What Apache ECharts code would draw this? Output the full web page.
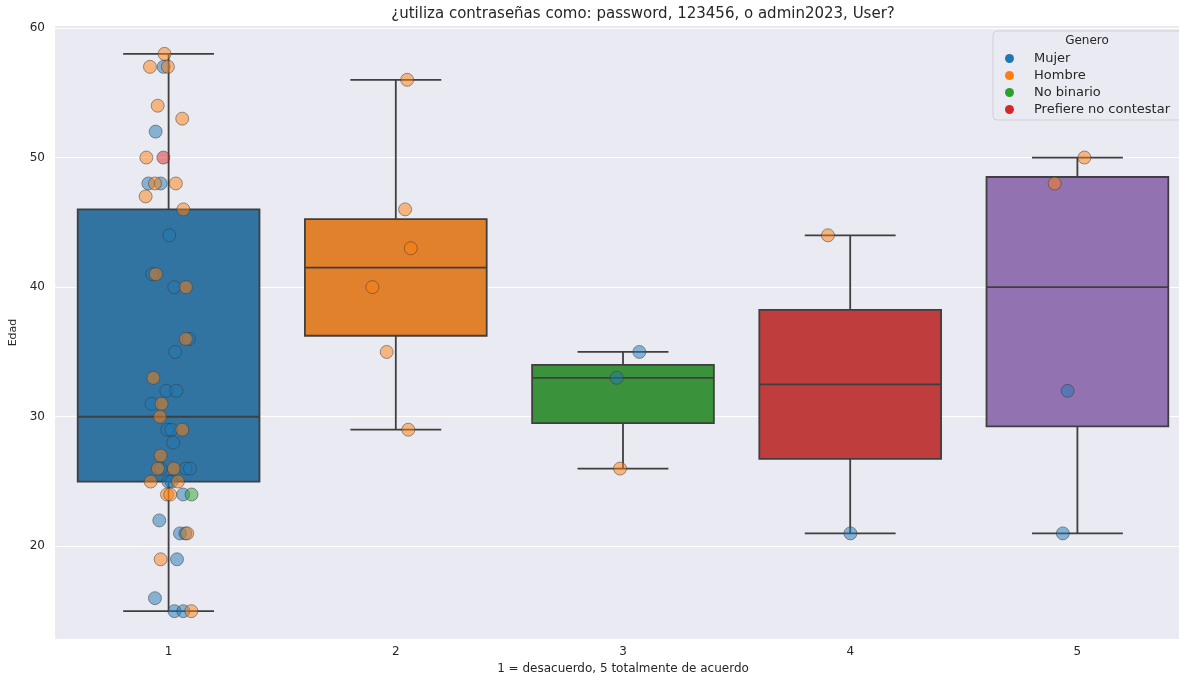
<!DOCTYPE html>
<html>
<head>
<meta charset="utf-8">
<script src="https://cdn.jsdelivr.net/npm/echarts@6/dist/echarts.min.js"></script>
<style>
  html, body { margin: 0; padding: 0; background: #ffffff; overflow: hidden; }
  #chart { width: 1191px; height: 677px; }
</style>
</head>
<body>
<div id="chart"></div>
<script>
// Answer scale (1 = desacuerdo, 5 = totalmente de acuerdo)
const categories = ['1', '2', '3', '4', '5'];
const genders = ['Mujer', 'Hombre', 'No binario', 'Prefiere no contestar'];

// Each respondent: [answer, age, strip jitter in category units]
const mujer = [
  [1, 57, -0.022], [1, 52, -0.057], [1, 48, -0.089], [1, 48, -0.035], [1, 44, 0.003],
  [1, 41, -0.072], [1, 40, 0.025], [1, 36, 0.089], [1, 35, 0.029], [1, 32, -0.010],
  [1, 32, 0.034], [1, 31, -0.075], [1, 29, -0.006], [1, 29, 0.012], [1, 28, 0.020],
  [1, 26, -0.035], [1, 26, 0.075], [1, 26, 0.094], [1, 25, -0.001], [1, 25, 0.013],
  [1, 24, 0.064], [1, 22, -0.041], [1, 21, 0.050], [1, 21, 0.074], [1, 19, 0.037],
  [1, 16, -0.060], [1, 15, 0.026], [1, 15, 0.065],
  [3, 35, 0.072], [3, 33, -0.028],
  [4, 21, 0.001],
  [5, 32, -0.043], [5, 21, -0.064]
];
const hombre = [
  [1, 58, -0.018], [1, 57, -0.082], [1, 57, -0.003], [1, 54, -0.048], [1, 53, 0.060],
  [1, 50, -0.098], [1, 48, -0.060], [1, 48, 0.032], [1, 47, -0.101], [1, 46, 0.065],
  [1, 41, -0.056], [1, 40, 0.076], [1, 36, 0.076], [1, 33, -0.067], [1, 31, -0.031],
  [1, 30, -0.038], [1, 29, 0.060], [1, 27, -0.035], [1, 26, -0.047], [1, 26, 0.023],
  [1, 25, -0.079], [1, 25, 0.041], [1, 24, -0.007], [1, 24, 0.007], [1, 21, 0.082],
  [1, 19, -0.035], [1, 15, 0.100],
  [2, 56, 0.050], [2, 46, 0.041], [2, 43, 0.066], [2, 40, -0.103], [2, 35, -0.040], [2, 29, 0.055],
  [3, 26, -0.013],
  [4, 44, -0.098],
  [5, 50, 0.031], [5, 48, -0.100]
];
const noBinario = [[1, 24, 0.101]];
const prefiereNo = [[1, 50, -0.023]];

const groups = [mujer, hombre, noBinario, prefiereNo];
const pointColors = ['#1f77b4', '#ff7f0e', '#2ca02c', '#d62728'];
const boxColors = ['#3274a1', '#e1812c', '#3a923a', '#c03d3e', '#9372b2'];
const lineColor = '#3f3f3f';
const font = '"DejaVu Sans", "Noto Sans", sans-serif';

// Linear-interpolated quantile of a sorted list
function quantile(sorted, p) {
  const idx = (sorted.length - 1) * p;
  const lo = Math.floor(idx), hi = Math.ceil(idx);
  return sorted[lo] + (sorted[hi] - sorted[lo]) * (idx - lo);
}

// Box statistics per answer, pooled over every gender
const boxData = categories.map((c, i) => {
  const ages = groups.flat().filter(p => p[0] === i + 1).map(p => p[1]).sort((a, b) => a - b);
  const q1 = quantile(ages, 0.25), med = quantile(ages, 0.5), q3 = quantile(ages, 0.75);
  const iqr = q3 - q1;
  const inside = ages.filter(a => a >= q1 - 1.5 * iqr && a <= q3 + 1.5 * iqr);
  return [i + 1, inside[0], q1, med, q3, inside[inside.length - 1]];
});

function renderBox(params, api) {
  const x = api.value(0);
  const lo = api.coord([x, api.value(1)]);
  const q1 = api.coord([x, api.value(2)]);
  const md = api.coord([x, api.value(3)]);
  const q3 = api.coord([x, api.value(4)]);
  const hi = api.coord([x, api.value(5)]);
  const bw = api.size([0.8, 0])[0];
  const cw = api.size([0.4, 0])[0];
  const cx = q1[0];
  const ls = { stroke: lineColor, lineWidth: 1.8 };
  return {
    type: 'group',
    children: [
      { type: 'line', shape: { x1: cx, y1: q1[1], x2: cx, y2: lo[1] }, style: ls },
      { type: 'line', shape: { x1: cx, y1: q3[1], x2: cx, y2: hi[1] }, style: ls },
      { type: 'line', shape: { x1: cx - cw / 2, y1: lo[1], x2: cx + cw / 2, y2: lo[1] }, style: ls },
      { type: 'line', shape: { x1: cx - cw / 2, y1: hi[1], x2: cx + cw / 2, y2: hi[1] }, style: ls },
      { type: 'rect', shape: { x: cx - bw / 2, y: q3[1], width: bw, height: q1[1] - q3[1] },
        style: { fill: boxColors[params.dataIndex], stroke: lineColor, lineWidth: 1.8 } },
      { type: 'line', shape: { x1: cx - bw / 2, y1: md[1], x2: cx + bw / 2, y2: md[1] }, style: ls }
    ]
  };
}

const chart = echarts.init(document.getElementById('chart'), null, { renderer: 'canvas' });

const option = {
  animation: false,
  backgroundColor: '#ffffff',
  textStyle: { fontFamily: font, color: '#262626' },
  grid: {
    left: 55, right: 0, top: 26, bottom: 38,
    containLabel: false, outerBoundsMode: 'none',
    show: true, backgroundColor: '#eaeaf2', borderWidth: 0
  },
  graphic: [
    {
      type: 'text', x: 643, y: 14,
      style: {
        text: '¿utiliza contraseñas como: password, 123456, o admin2023, User?',
        font: '15px ' + font, fill: '#262626', align: 'center', verticalAlign: 'middle'
      }
    },
    {
      type: 'text', x: 1087, y: 41, z: 100,
      style: { text: 'Genero', font: '12px ' + font, fill: '#262626', align: 'center', verticalAlign: 'middle' }
    }
  ],
  legend: {
    data: genders,
    orient: 'vertical',
    left: 993, top: 31,
    padding: [21, 12, 4, 12],
    itemGap: 4,
    itemWidth: 9, itemHeight: 9,
    icon: 'circle',
    backgroundColor: 'rgba(234,234,242,0.85)',
    borderColor: '#d0d0d8', borderWidth: 1, borderRadius: 4,
    itemStyle: { opacity: 1, borderWidth: 0 },
    textStyle: { fontSize: 13, lineHeight: 13, color: '#262626', fontFamily: font, padding: [0, 0, 0, 15] }
  },
  xAxis: [
    {
      type: 'category', data: categories, gridIndex: 0,
      axisLine: { show: false }, axisTick: { show: false },
      axisLabel: { fontSize: 12, color: '#262626', margin: 7 },
      splitLine: { show: false },
      name: '1 = desacuerdo, 5 totalmente de acuerdo',
      nameLocation: 'middle', nameGap: 22,
      nameTextStyle: { fontSize: 12, color: '#262626' }
    },
    { type: 'value', min: 0.5, max: 5.5, show: false, gridIndex: 0 }
  ],
  yAxis: {
    type: 'value', min: 12.85, max: 60.15, splitNumber: 5,
    axisLine: { show: false }, axisTick: { show: false },
    axisLabel: { fontSize: 12, color: '#262626', margin: 10, showMinLabel: false, showMaxLabel: false },
    splitLine: { show: true, showMinLine: false, showMaxLine: false, lineStyle: { color: '#ffffff', width: 1 } },
    name: 'Edad', nameLocation: 'middle', nameGap: 33, nameRotate: 90,
    nameTextStyle: { fontSize: 11, color: '#262626' }
  },
  series: [
    {
      type: 'custom', name: 'box', xAxisIndex: 1, yAxisIndex: 0,
      renderItem: renderBox, data: boxData, z: 1, silent: true,
      encode: { x: 0, y: [1, 2, 3, 4, 5] }
    }
  ].concat(groups.map((g, i) => ({
    type: 'scatter', name: genders[i], xAxisIndex: 1, yAxisIndex: 0, z: 3,
    symbolSize: 13,
    itemStyle: { color: pointColors[i], opacity: 0.5, borderColor: '#3a3a3a', borderWidth: 1 },
    data: g.map(p => [p[0] + p[2], p[1]])
  })))
};

chart.setOption(option);
</script>
</body>
</html>
